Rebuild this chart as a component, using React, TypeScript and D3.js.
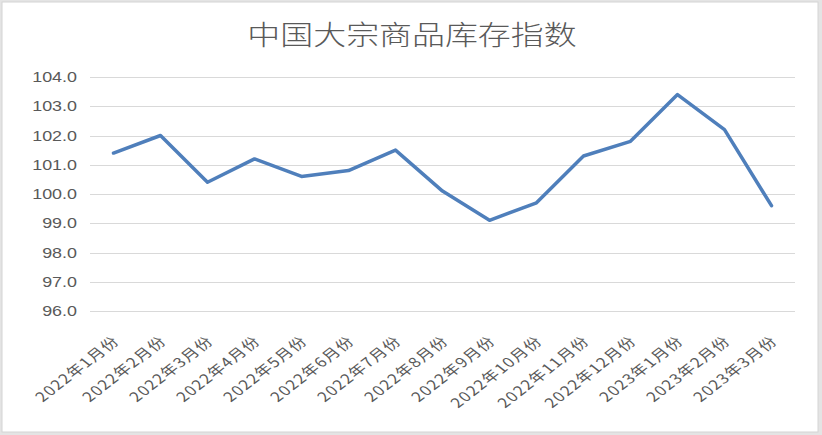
import { useEffect, useRef } from "react";
import * as d3 from "d3";

const months = [
  "2022年1月份", "2022年2月份", "2022年3月份", "2022年4月份", "2022年5月份",
  "2022年6月份", "2022年7月份", "2022年8月份", "2022年9月份", "2022年10月份",
  "2022年11月份", "2022年12月份", "2023年1月份", "2023年2月份", "2023年3月份",
];
const indexValues = [
  101.4, 102.0, 100.4, 101.2, 100.6, 100.8, 101.5, 100.1, 99.1, 99.7,
  101.3, 101.8, 103.4, 102.2, 99.6,
];
const yTicks = [96, 97, 98, 99, 100, 101, 102, 103, 104];
const title = "中国大宗商品库存指数";

const W = 822;
const H = 435;

export default function App() {
  const svgRef = useRef<SVGSVGElement>(null);

  useEffect(() => {
    if (!svgRef.current) return;
    const svg = d3.select(svgRef.current);
    svg.selectAll("*").remove();

    const margin = { top: 77, right: 27, bottom: 124, left: 90 };
    const width = W - margin.left - margin.right;
    const height = H - margin.top - margin.bottom;
    const font = "'Noto Sans CJK SC', 'Liberation Sans', sans-serif";
    const textColor = "#595959";

    // frame
    svg.append("rect").attr("width", W).attr("height", H).attr("fill", "#e4e4e4");
    svg
      .append("rect")
      .attr("x", 2)
      .attr("y", 2)
      .attr("width", 816)
      .attr("height", 430)
      .attr("fill", "#fff")
      .attr("stroke", "#d4d4d4");

    const x = d3.scaleBand().domain(months).range([0, width]);
    const y = d3.scaleLinear().domain([96, 104]).range([height, 0]);

    const g = svg
      .append("g")
      .attr("transform", `translate(${margin.left},${margin.top})`);

    // gridlines
    g.selectAll("line.grid")
      .data(yTicks)
      .join("line")
      .attr("class", "grid")
      .attr("x1", 0)
      .attr("x2", width)
      .attr("y1", (d) => Math.round(y(d)) + 0.5)
      .attr("y2", (d) => Math.round(y(d)) + 0.5)
      .attr("stroke", "#d9d9d9")
      .attr("stroke-width", 1);

    // y labels
    g.selectAll("text.ylab")
      .data(yTicks)
      .join("text")
      .attr("class", "ylab")
      .attr("transform", (d) => `translate(-13,${y(d) + 5}) scale(1.28,1)`)
      .attr("text-anchor", "end")
      .attr("font-family", "'Liberation Sans', sans-serif")
      .attr("font-size", 14)
      .attr("fill", textColor)
      .text((d) => d.toFixed(1));

    // x labels (the picture is a little stretched sideways)
    g.selectAll("text.xlab")
      .data(months)
      .join("text")
      .attr("class", "xlab")
      .attr(
        "transform",
        (d) => `translate(${x(d)! + x.bandwidth() / 2 + 7},${height + 31}) scale(1.28,1) rotate(-45)`
      )
      .attr("text-anchor", "end")
      .attr("font-family", font)
      .attr("font-size", 13.5)
      .attr("letter-spacing", 1)
      .attr("fill", textColor)
      .text((d) => d);

    // line
    const line = d3
      .line<number>()
      .x((_, i) => x(months[i])! + x.bandwidth() / 2)
      .y((d) => y(d));

    g.append("path")
      .datum(indexValues)
      .attr("d", line)
      .attr("fill", "none")
      .attr("stroke", "#4f7fbb")
      .attr("stroke-width", 3.5)
      .attr("stroke-linejoin", "round")
      .attr("stroke-linecap", "round");

    // title
    svg
      .append("text")
      .attr("transform", "translate(412,45) scale(1.22,1)")
      .attr("text-anchor", "middle")
      .attr("font-family", font)
      .attr("font-size", 27)
      .attr("font-weight", 300)
      .attr("fill", textColor)
      .text(title);
  }, []);

  return (
    <svg
      ref={svgRef}
      width={W}
      height={H}
      style={{ position: "absolute", left: 0, top: 0, display: "block" }}
    />
  );
}
